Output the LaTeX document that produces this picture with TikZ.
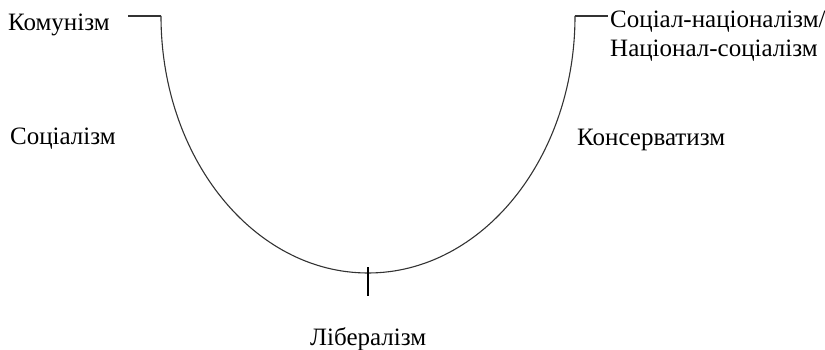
\documentclass[tikz,border=0pt]{standalone}
\usepackage{fontspec}
\setmainfont{Liberation Serif}
\usetikzlibrary{positioning}

\begin{document}
\begin{tikzpicture}[
  x=1pt, y=-1pt,
  lbl/.style={font=\fontsize{25}{29}\selectfont, inner sep=0pt, anchor=base west},
  curve/.style={line width=1.1pt, black!80},
]
  \useasboundingbox (0,0) rectangle (825,350);

  % ── Arc ──
  \coordinate (left) at (161,16);
  \coordinate (right) at (575,16);
  \coordinate (bottom) at (368,273);
  \draw[curve] (left) arc[start angle=180, end angle=0, x radius=207, y radius=257];

  % ── Corner stubs ──
  \coordinate (leftEnd) at (128,16);
  \coordinate (rightEnd) at (608,16);
  \draw[curve] (left) -- (leftEnd);
  \draw[curve] (right) -- (rightEnd);

  % ── Middle tick ──
  \coordinate (tickTop) at (368,267);
  \coordinate (tickBot) at (368,296);
  \draw[line width=1.6pt] (tickTop) -- (tickBot);

  % ── Labels ──
  \node[lbl] (komunizm) at (8,31) {Комунізм};
  \node[lbl] (sotsializm) at (10,145) {Соціалізм};
  \node[lbl] (konservatyzm) at (577,146) {Консерватизм};
  \node[lbl] (natsoc) at (610,28) {Соціал-націоналізм/};
  \node[lbl] (socnat) at (610,57) {Націонал-соціалізм};
  \node[lbl] (liberalizm) at (310,345) {Лібералізм};

\end{tikzpicture}
\end{document}
